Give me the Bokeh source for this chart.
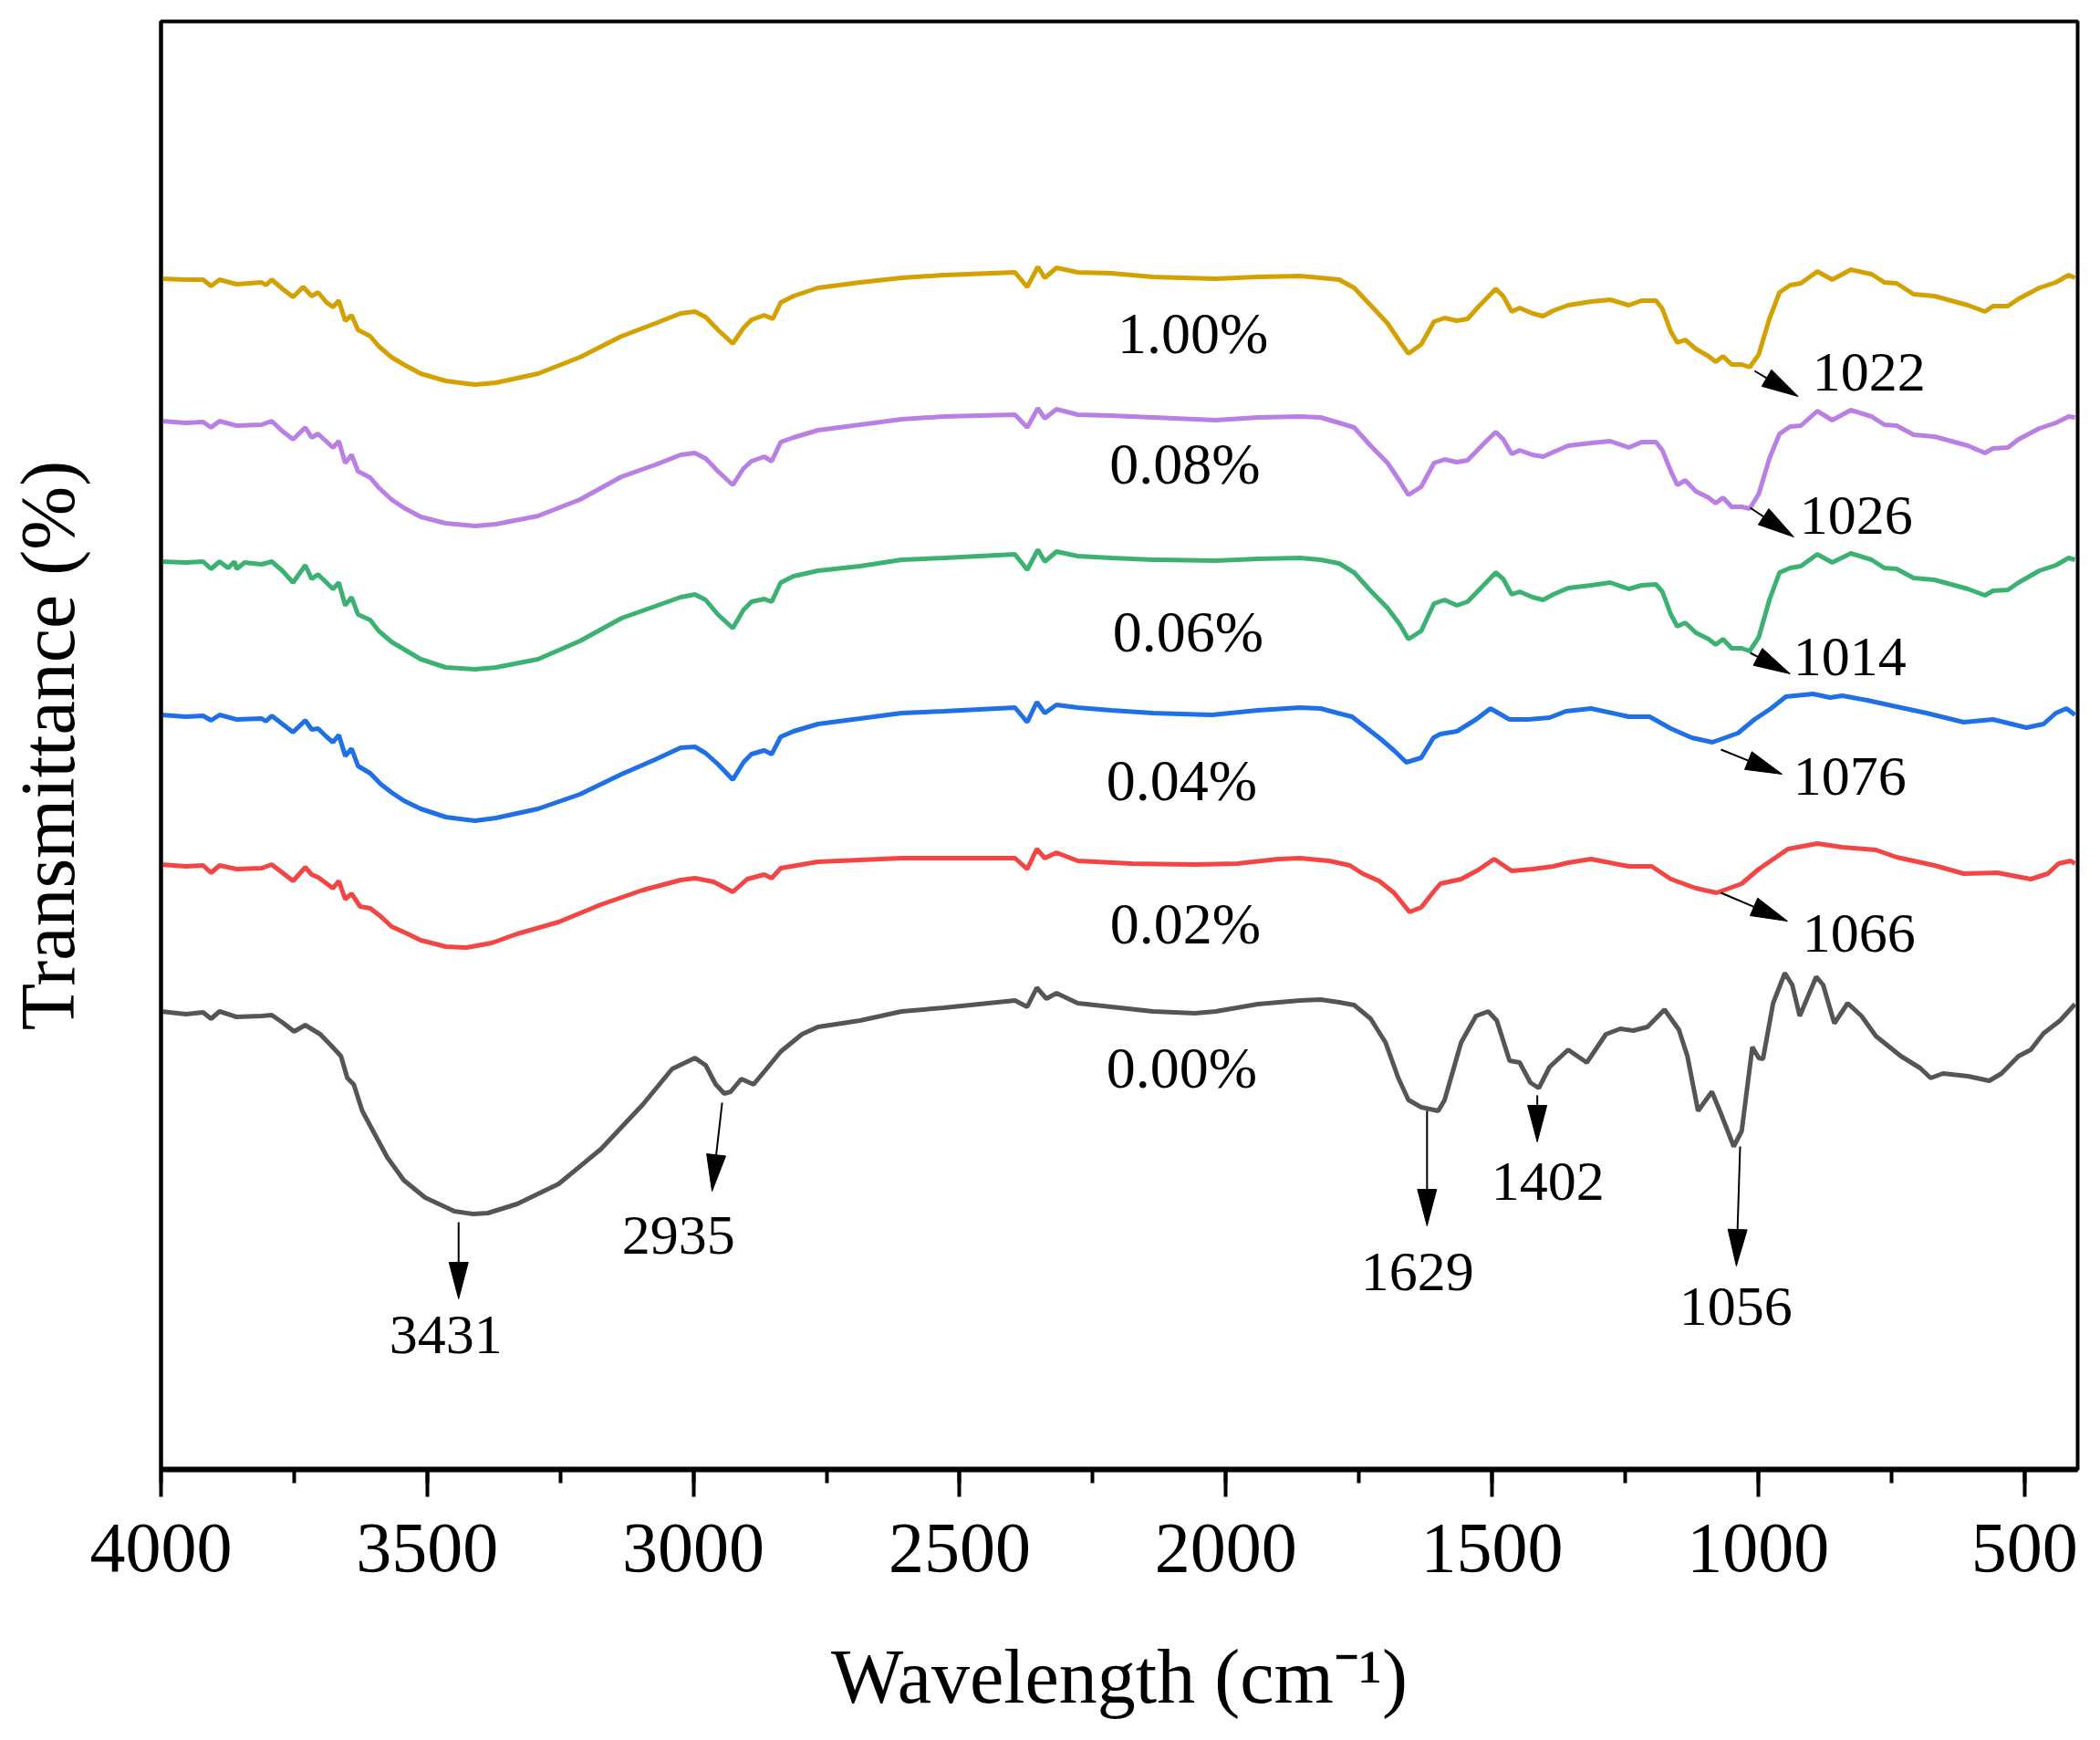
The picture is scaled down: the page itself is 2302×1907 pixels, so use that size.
from math import hypot

from bokeh.core.properties import value
from bokeh.embed import file_html
from bokeh.models import ColumnDataSource, FixedTicker, Range1d, SingleIntervalTicker
from bokeh.plotting import figure
from bokeh.resources import INLINE

# FTIR spectra, offset vertically (transmittance in arbitrary units)
s000 = [(4000,502),(3953,499),(3921,501),(3906,494),(3890,502),(3858,496),(3811,497),(3792,498),(3772,490),
	(3750,480),(3729,487),(3701,477),(3681,465),(3662,453),(3650,429),(3638,422),(3622,393),(3599,368),
	(3575,342),(3544,317),(3504,298),(3449,283),(3414,280),(3386,281),(3331,291),(3253,313),(3174,351),
	(3095,400),(3040,439),(2997,451),(2977,443),(2958,422),(2942,412),(2930,414),(2910,428),(2887,422),
	(2867,436),(2836,458),(2796,477),(2766,485),(2687,492),(2609,502),(2530,506),(2396,514),(2373,507),
	(2355,528),(2337,516),(2318,522),(2278,511),(2215,507),(2137,502),(2058,500),(2019,502),(1940,510),
	(1861,514),(1822,515),(1787,512),(1759,509),(1728,494),(1700,468),(1676,429),(1657,405),(1633,397),
	(1601,393),(1589,405),(1558,468),(1530,497),(1507,502),(1491,492),(1467,448),(1448,446),(1428,424),
	(1412,418),(1392,441),(1357,460),(1322,446),(1286,477),(1259,483),(1235,481),(1208,485),(1176,504),
	(1149,482),(1133,453),(1113,393),(1087,414),(1070,390),(1046,354),(1031,371),(1011,463),(999,451),
	(991,450),(972,511),(950,544),(936,531),(922,497),(891,540),(878,531),(857,489),(832,511),(806,497),
	(779,475),(732,453),(696,440),(676,429),(653,434),(606,431),(566,426),(543,434),(511,453),(488,460),
	(464,478),(433,492),(405,510)]

s002 = [(4000,663),(3953,661),(3921,662),(3906,654),(3890,662),(3858,658),(3811,659),(3792,663),(3772,654),
	(3752,645),(3729,660),(3717,652),(3705,649),(3677,637),(3666,645),(3654,625),(3642,631),(3626,617),
	(3607,615),(3587,606),(3567,595),(3544,589),(3512,580),(3465,573),(3426,572),(3379,577),(3331,587),
	(3253,600),(3174,619),(3095,635),(3024,646),(2997,648),(2962,644),(2926,633),(2899,647),(2867,652),
	(2853,648),(2836,659),(2766,666),(2609,670),(2396,670),(2373,658),(2355,680),(2340,670),(2318,676),
	(2278,667),(2176,664),(2058,663),(1979,664),(1901,669),(1861,670),(1806,667),(1767,662),(1743,653),
	(1712,645),(1684,632),(1655,611),(1633,616),(1610,633),(1597,642),(1558,647),(1526,657),(1496,669),
	(1463,656),(1424,658),(1385,661),(1357,665),(1314,669),(1243,661),(1200,661),(1164,647),(1117,637),
	(1078,632),(1031,642),(999,658),(944,680),(889,686),(842,682),(779,679),(740,671),(669,662),(614,653),
	(551,654),(488,647),(456,653),(436,664),(413,667),(405,664)]

s004 = [(4000,827),(3953,825),(3921,826),(3906,821),(3890,827),(3858,822),(3811,823),(3803,820),(3792,826),
	(3772,817),(3752,808),(3729,821),(3717,811),(3705,812),(3689,803),(3677,797),(3666,805),(3654,782),
	(3642,790),(3630,771),(3607,763),(3587,751),(3567,742),(3544,733),(3512,724),(3465,715),(3410,711),
	(3371,714),(3292,724),(3213,740),(3135,762),(3072,778),(3024,791),(2997,792),(2977,785),(2954,773),
	(2926,756),(2906,775),(2891,784),(2867,788),(2853,784),(2836,803),(2812,809),(2766,817),(2687,823),
	(2609,829),(2530,831),(2396,835),(2373,819),(2355,841),(2340,829),(2318,838),(2278,835),(2215,832),
	(2137,829),(2026,827),(1940,832),(1861,835),(1822,834),(1790,829),(1763,825),(1743,816),(1712,802),
	(1684,788),(1661,775),(1633,780),(1610,802),(1597,806),(1566,809),(1530,822),(1503,834),(1467,822),
	(1432,822),(1392,824),(1361,831),(1314,834),(1243,825),(1204,825),(1164,812),(1125,802),(1086,797),
	(1038,807),(1007,822),(976,834),(948,847),(897,850),(865,846),(842,848),(795,843),(748,837),(684,829),
	(614,819),(559,822),(496,813),(464,817),(441,829),(421,834),(405,827)]

s006 = [(4000,995),(3953,994),(3921,995),(3906,987),(3890,995),(3874,988),(3862,995),(3858,987),(3843,994),
	(3811,992),(3792,995),(3772,985),(3752,972),(3729,991),(3717,976),(3705,981),(3677,965),(3666,972),
	(3654,947),(3642,956),(3630,937),(3607,931),(3591,919),(3567,907),(3544,899),(3512,888),(3465,879),
	(3410,877),(3371,879),(3292,888),(3213,908),(3135,933),(3072,946),(3024,956),(2997,959),(2977,953),
	(2954,937),(2926,922),(2906,942),(2891,951),(2867,954),(2853,951),(2836,972),(2812,979),(2766,985),
	(2687,990),(2609,997),(2530,999),(2396,1003),(2373,986),(2353,1008),(2340,995),(2318,1006),(2278,1001),
	(2215,999),(2137,997),(2019,996),(1940,998),(1861,999),(1822,997),(1787,993),(1759,983),(1728,963),
	(1696,944),(1673,926),(1657,910),(1633,919),(1609,949),(1589,953),(1566,947),(1546,951),(1526,963),
	(1511,972),(1493,983),(1479,976),(1463,959),(1448,962),(1424,956),(1404,953),(1385,959),(1357,966),
	(1314,969),(1278,972),(1243,965),(1219,969),(1192,970),(1180,962),(1164,937),(1152,924),(1137,928),
	(1117,917),(1093,910),(1080,904),(1066,910),(1050,900),(1031,900),(1016,897),(999,912),(979,953),
	(960,983),(940,988),(920,990),(889,1003),(861,994),(826,1004),(787,997),(763,988),(740,987),(708,977),
	(669,975),(606,965),(574,958),(559,963),(531,964),(511,972),(472,985),(441,991),(417,999),(405,997)]

s008 = [(4000,1149),(3953,1147),(3921,1148),(3906,1142),(3890,1149),(3858,1144),(3811,1145),(3792,1149),
	(3772,1138),(3752,1129),(3729,1142),(3717,1131),(3705,1135),(3677,1120),(3666,1127),(3654,1103),
	(3642,1112),(3630,1094),(3607,1087),(3591,1076),(3567,1063),(3544,1054),(3512,1044),(3465,1037),
	(3410,1034),(3371,1036),(3292,1045),(3213,1063),(3135,1088),(3072,1101),(3024,1112),(2997,1114),
	(2977,1108),(2954,1094),(2926,1079),(2906,1097),(2891,1105),(2867,1110),(2853,1105),(2836,1126),
	(2812,1131),(2766,1139),(2687,1145),(2609,1151),(2530,1154),(2396,1156),(2373,1142),(2353,1163),
	(2340,1152),(2318,1162),(2278,1156),(2215,1155),(2137,1153),(2019,1150),(1940,1153),(1861,1154),
	(1822,1153),(1787,1147),(1759,1142),(1728,1122),(1696,1103),(1673,1083),(1657,1068),(1633,1077),
	(1609,1103),(1589,1107),(1566,1104),(1546,1106),(1526,1118),(1511,1127),(1493,1137),(1479,1129),
	(1463,1113),(1448,1117),(1424,1112),(1404,1110),(1385,1115),(1357,1122),(1314,1125),(1278,1127),
	(1243,1120),(1219,1126),(1192,1126),(1180,1117),(1164,1094),(1152,1079),(1137,1084),(1117,1072),
	(1093,1065),(1080,1059),(1066,1065),(1050,1055),(1031,1055),(1016,1053),(999,1069),(979,1108),
	(960,1135),(940,1143),(920,1144),(889,1160),(861,1150),(826,1161),(787,1154),(763,1145),(740,1144),
	(708,1134),(669,1132),(606,1122),(574,1114),(559,1119),(531,1120),(511,1129),(472,1141),(441,1147),
	(417,1154),(405,1153)]

s100 = [(4000,1305),(3953,1304),(3921,1304),(3906,1297),(3890,1304),(3858,1299),(3811,1301),(3803,1298),
	(3792,1304),(3772,1294),(3752,1285),(3733,1296),(3717,1286),(3705,1290),(3689,1279),(3677,1274),
	(3666,1281),(3654,1259),(3642,1265),(3630,1249),(3607,1242),(3591,1231),(3567,1219),(3544,1211),
	(3512,1201),(3465,1193),(3410,1189),(3371,1191),(3292,1201),(3213,1219),(3135,1242),(3072,1256),
	(3024,1267),(2997,1269),(2977,1263),(2954,1249),(2926,1234),(2906,1251),(2891,1260),(2867,1265),
	(2851,1261),(2836,1279),(2812,1286),(2766,1295),(2687,1301),(2609,1306),(2530,1309),(2396,1312),
	(2373,1296),(2353,1318),(2340,1306),(2318,1317),(2278,1312),(2215,1311),(2137,1307),(2019,1305),
	(1940,1307),(1861,1308),(1822,1306),(1787,1304),(1759,1295),(1728,1276),(1696,1256),(1673,1236),
	(1657,1223),(1633,1233),(1609,1258),(1589,1262),(1566,1259),(1546,1261),(1526,1274),(1511,1283),
	(1493,1294),(1479,1286),(1463,1269),(1448,1273),(1424,1267),(1404,1264),(1385,1270),(1357,1276),
	(1314,1280),(1278,1282),(1243,1276),(1219,1281),(1192,1281),(1180,1272),(1164,1247),(1152,1235),
	(1137,1238),(1117,1228),(1093,1220),(1080,1214),(1066,1220),(1050,1211),(1031,1211),(1016,1208),
	(999,1222),(979,1261),(960,1290),(940,1298),(920,1300),(889,1313),(861,1304),(826,1315),(787,1310),
	(763,1301),(740,1300),(708,1288),(669,1286),(606,1276),(574,1269),(559,1275),(531,1275),(511,1283),
	(472,1295),(441,1301),(417,1309),(405,1306)]

series = [s000, s002, s004, s006, s008, s100]
names = ["0.00%", "0.02%", "0.04%", "0.06%", "0.08%", "1.00%"]
colors = ["#555555", "#F44545", "#1F6FE6", "#3BB272", "#B97FE4", "#D4A103"]

# series name labels (placed over each curve)
name_x = [2083, 2076, 2083, 2071, 2077, 2062]
name_y = [440, 598, 755, 918, 1102, 1245]

# peak labels and their arrows (tail on the curve, tip towards the label)
peak_text = ["3431", "2935", "1629", "1402", "1056", "1066", "1076", "1014", "1026", "1022"]
peak_x = [3465, 3028, 1640, 1395, 1042, 811, 828, 828, 816, 792]
peak_y = [148, 257, 217, 316, 179, 588, 760, 891, 1046, 1203]
arrow_x0 = [3441, 2946, 1622, 1415, 1034, 1070, 1070, 1015, 1015, 1007]
arrow_y0 = [271, 402, 393, 410, 354, 632, 789, 895, 1054, 1204]
arrow_x1 = [3441, 2965, 1622, 1415, 1041, 945, 955, 940, 933, 925]
arrow_y1 = [187, 305, 267, 359, 223, 601, 762, 872, 1022, 1176]

x_start, x_end = 4000, 400
y_bottom, y_top = 0, 1587
frame_w, frame_h = 2101, 1587

p = figure(frame_width=frame_w, frame_height=frame_h, output_backend="svg", toolbar_location=None,
	x_range=Range1d(x_start, x_end), y_range=Range1d(y_bottom, y_top))

p.min_border_left = 176
p.min_border_right = 9
p.min_border_top = 23
p.min_border_bottom = 281

p.xgrid.visible = False
p.ygrid.visible = False
p.outline_line_color = "black"
p.outline_line_width = 4
p.background_fill_color = "white"
p.border_fill_color = "white"

serif = "Liberation Serif"

p.xaxis.ticker = SingleIntervalTicker(interval=500, num_minor_ticks=2)
p.xaxis.axis_line_width = 6
p.xaxis.major_tick_in = 0
p.xaxis.major_tick_out = 30
p.xaxis.minor_tick_in = 0
p.xaxis.minor_tick_out = 15
p.xaxis.major_tick_line_width = 4
p.xaxis.minor_tick_line_width = 4
p.xaxis.major_label_text_font = serif
p.xaxis.major_label_text_font_size = "78px"
p.xaxis.major_label_text_color = "black"
p.xaxis.major_label_standoff = 30
p.xaxis.axis_label = "Wavelength (cm\u207b\u00b9)"
p.xaxis.axis_label_text_font = serif
p.xaxis.axis_label_text_font_size = "84px"
p.xaxis.axis_label_text_font_style = "normal"
p.xaxis.axis_label_text_color = "black"
p.xaxis.axis_label_standoff = 66

p.yaxis.ticker = FixedTicker(ticks=[])
p.yaxis.axis_line_width = 4
p.yaxis.major_tick_out = 0
p.yaxis.minor_tick_out = 0
p.yaxis.axis_label = "Transmittance (%)"
p.yaxis.axis_label_text_font = serif
p.yaxis.axis_label_text_font_size = "84px"
p.yaxis.axis_label_text_font_style = "normal"
p.yaxis.axis_label_text_color = "black"
p.yaxis.axis_label_standoff = 78

for data, color in zip(series, colors):
	xs, ys = zip(*data)
	p.line(list(xs), list(ys), line_color=color, line_width=5)

# arrows: thin shaft plus a long narrow filled head
sx_scale = frame_w / (x_start - x_end)
sy_scale = frame_h / (y_top - y_bottom)
head_len, head_wid = 40, 21
shaft_x0, shaft_y0, shaft_x1, shaft_y1 = [], [], [], []
head_xs, head_ys = [], []
for x0, y0, x1, y1 in zip(arrow_x0, arrow_y0, arrow_x1, arrow_y1):
	dx = -(x1 - x0) * sx_scale
	dy = (y1 - y0) * sy_scale
	d = hypot(dx, dy)
	ux, uy = dx / d, dy / d
	bx, by = -head_len * ux, -head_len * uy
	nx, ny = -uy * head_wid / 2, ux * head_wid / 2
	pts = [(0, 0), (bx + nx, by + ny), (bx - nx, by - ny)]
	head_xs.append([x1 - px / sx_scale for px, _ in pts])
	head_ys.append([y1 + py / sy_scale for _, py in pts])
	shaft_x0.append(x0)
	shaft_y0.append(y0)
	shaft_x1.append(x1 - (bx + 2 * ux) / sx_scale)
	shaft_y1.append(y1 + (by + 2 * uy) / sy_scale)

p.segment(shaft_x0, shaft_y0, shaft_x1, shaft_y1, line_color="black", line_width=2)
p.patches(head_xs, head_ys, fill_color="black", line_color="black", line_width=1)

peaks = ColumnDataSource(dict(x=peak_x, y=peak_y, text=peak_text))
p.text(x="x", y="y", text="text", source=peaks, text_font=value(serif), text_font_size="62px",
	text_align="center", text_baseline="middle", text_color="black")

labels = ColumnDataSource(dict(x=name_x, y=name_y, text=names))
p.text(x="x", y="y", text="text", source=labels, text_font=value(serif), text_font_size="64px",
	text_align="center", text_baseline="middle", text_color="black")

open("out.html", "w").write(file_html(p, INLINE))
